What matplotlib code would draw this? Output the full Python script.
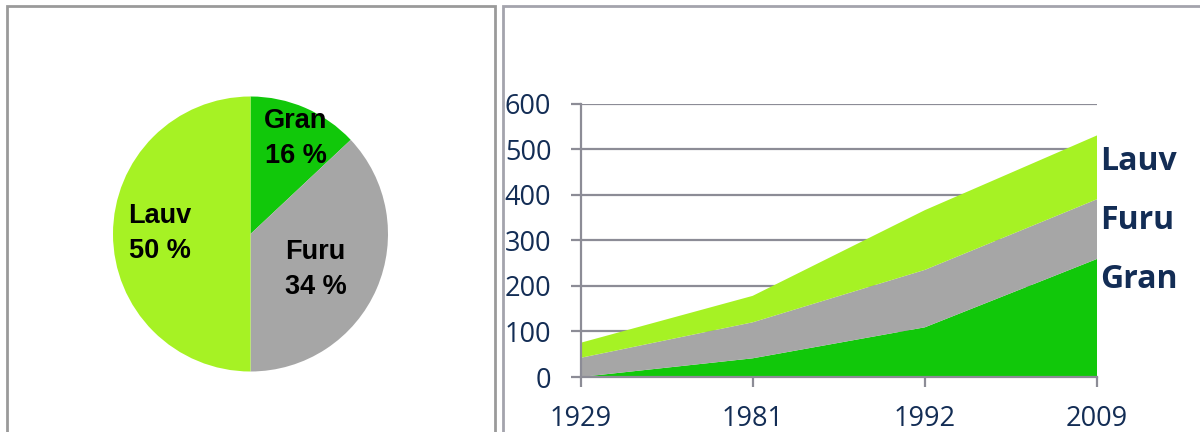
import matplotlib
matplotlib.use("Agg")
import matplotlib.pyplot as plt
import numpy as np
from matplotlib.patches import Rectangle

# ---- data ----
pie_labels = ["Gran", "Furu", "Lauv"]
pie_label_pct = ["16 %", "34 %", "50 %"]
pie_drawn = [13, 37, 50]          # wedge sizes as drawn in the picture
years = ["1929", "1981", "1992", "2009"]
gran = [0, 41, 109, 259]
furu = [42, 79, 126, 131]
lauv = [33, 58, 131, 140]
yticks = [0, 100, 200, 300, 400, 500, 600]

c_gran = "#11C80A"
c_furu = "#A6A6A6"
c_lauv = "#A6F224"
navy = "#132D55"
gridc = "#8C8C96"

W, H = 1200, 432
fig = plt.figure(figsize=(W / 100, H / 100), dpi=100)

def fx(px):
    return px / W

def fy(py):
    return 1 - py / H

# panel borders
fig.patches.append(Rectangle((fx(7), fy(440)), fx(488), (440 - 6) / H, transform=fig.transFigure,
                             fill=False, edgecolor="#9A9A9A", linewidth=2.0))
fig.patches.append(Rectangle((fx(503), fy(440)), fx(720), (440 - 6) / H, transform=fig.transFigure,
                             fill=False, edgecolor="#A4A4AC", linewidth=2.0))

# ---- pie ----
cx, cy, r = 250.5, 234, 137.5
axp = fig.add_axes([fx(cx - r), fy(cy + r), fx(2 * r), 2 * r / H])
wedges, _ = axp.pie(pie_drawn, colors=[c_gran, c_furu, c_lauv], startangle=90,
                    counterclock=False, radius=1.0, wedgeprops=dict(linewidth=0))
axp.set_xlim(-1, 1)
axp.set_ylim(-1, 1)
axp.set_aspect("auto")
axp.axis("off")
label_r = [0.77, 0.54, 0.66]
label_dang = [-2, -5.5, 0]
for w, lab, pct, lr, da in zip(wedges, pie_labels, pie_label_pct, label_r, label_dang):
    ang = np.deg2rad((w.theta1 + w.theta2) / 2 + da)
    axp.text(lr * np.cos(ang), lr * np.sin(ang), f"{lab}\n{pct}",
             ha="center", va="center", fontsize=19.5, fontweight="bold",
             family=["Liberation Sans Narrow", "Liberation Sans", "DejaVu Sans"],
             color="black", linespacing=1.45)

# ---- stacked area ----
x0, x1 = 580.5, 1097
y0, y600 = 377, 103.5
axa = fig.add_axes([fx(x0), fy(y0), fx(x1 - x0), (y0 - y600) / H])
xs = np.arange(len(years))
axa.stackplot(xs, gran, furu, lauv, colors=[c_gran, c_furu, c_lauv], linewidth=0)
axa.set_xlim(0, len(years) - 1)
axa.set_ylim(0, 600)
axa.set_yticks(yticks)
axa.set_xticks(xs)
axa.set_xticklabels(years)
axa.yaxis.grid(True, color=gridc, linewidth=1.6)
axa.set_axisbelow(True)
for s in ["top", "right"]:
    axa.spines[s].set_visible(False)
for s in ["left", "bottom"]:
    axa.spines[s].set_color(gridc)
    axa.spines[s].set_linewidth(1.6)
axa.tick_params(axis="y", length=7, width=1.6, color=gridc, pad=14,
                labelsize=19.5, labelcolor=navy)
axa.tick_params(axis="x", length=7, width=1.6, color=gridc, pad=13,
                labelsize=19.5, labelcolor=navy)
for t in axa.get_xticklabels() + axa.get_yticklabels():
    t.set_family(["Open Sans", "DejaVu Sans"])

# series labels at right
for lab, py in zip(["Lauv", "Furu", "Gran"], [161, 220, 279]):
    fig.text(fx(1100), fy(py), lab, ha="left", va="center", fontsize=23,
             fontweight="bold", color=navy, family=["Open Sans", "DejaVu Sans"])

fig.savefig("out.png", dpi=100)
